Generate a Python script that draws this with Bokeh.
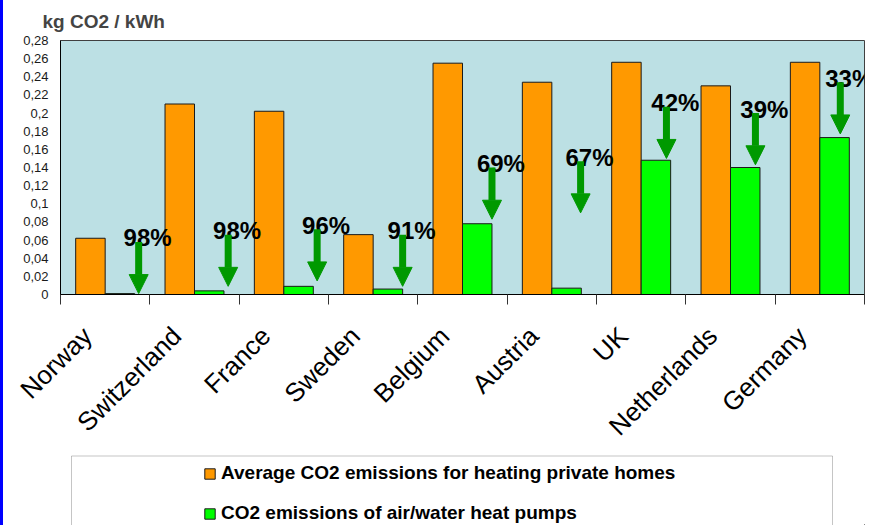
import math
from bokeh.plotting import figure
from bokeh.layouts import column, row
from bokeh.models import (ColumnDataSource, Range1d, FixedTicker, Legend, LegendItem,
                          Arrow, NormalHead, BoxAnnotation, Div)
from bokeh.transform import dodge
from bokeh.core.properties import value
from bokeh.embed import file_html
from bokeh.resources import INLINE

# ---- data ----
countries = ["Norway", "Switzerland", "France", "Sweden", "Belgium",
             "Austria", "UK", "Netherlands", "Germany"]
avg_heating = [0.062, 0.210, 0.202, 0.066, 0.255, 0.234, 0.256, 0.230, 0.256]
heat_pump = [0.001, 0.004, 0.009, 0.006, 0.078, 0.007, 0.148, 0.140, 0.173]
reduction_labels = ["98%", "98%", "96%", "91%", "69%", "67%", "42%", "39%", "33%"]
arrow_top = [0.058, 0.066, 0.072, 0.066, 0.140, 0.147, 0.207, 0.200, 0.234]
arrow_tip = [0.001, 0.009, 0.015, 0.009, 0.083, 0.090, 0.150, 0.143, 0.177]
arrow_shift = [0.375, 0.377, 0.373, 0.330, 0.330, 0.322, 0.283, 0.279, 0.229]
y_ticks = [0, 0.02, 0.04, 0.06, 0.08, 0.1, 0.12, 0.14, 0.16, 0.18, 0.2, 0.22, 0.24, 0.26, 0.28]
y_tick_labels = ["0", "0,02", "0,04", "0,06", "0,08", "0,1", "0,12", "0,14", "0,16",
                 "0,18", "0,2", "0,22", "0,24", "0,26", "0,28"]
series_names = ["Average CO2 emissions for heating private homes",
                "CO2 emissions of air/water heat pumps"]

FONT = "Liberation Sans"
ORANGE = "#FF9900"
GREEN = "#00FF00"
ARROW = "#009900"

EDGE = 3            # blue slide edge on the left
W = 875 - EDGE

n = len(countries)
xc = [i + 0.5 for i in range(n)]
xa = [c + s for c, s in zip(xc, arrow_shift)]
xl = [a + 0.1 for a in xa]
label_pos = [c - 0.2 for c in xc]

src = ColumnDataSource(dict(x=xc, avg=avg_heating, hp=heat_pump, xa=xa, xl=xl,
                            top=arrow_top, tip=arrow_tip, lab=reduction_labels))

p = figure(width=W, height=454, output_backend="svg", toolbar_location=None,
           x_range=Range1d(0, n), y_range=Range1d(0, 0.28),
           min_border_left=60 - EDGE, min_border_right=11, min_border_top=38,
           min_border_bottom=160, background_fill_color="#BCE0E4",
           border_fill_color="white", title="kg CO2 / kWh")
p.grid.visible = False
p.outline_line_color = "#404040"

p.title.align = "left"
p.title.offset = -18
p.title.text_font = FONT
p.title.text_font_size = "19px"
p.title.text_font_style = "bold"
p.title.standoff = 17

r_avg = p.vbar(x=dodge("x", -0.165), top="avg", width=0.33, source=src,
               fill_color=ORANGE, line_color="#1a1a1a", line_width=1)
r_hp = p.vbar(x=dodge("x", 0.165), top="hp", width=0.33, source=src,
              fill_color=GREEN, line_color="#1a1a1a", line_width=1)

p.add_layout(Arrow(end=NormalHead(size=19, fill_color=ARROW, line_color=ARROW, line_width=1),
                   x_start="xa", y_start="top", x_end="xa", y_end="tip", source=src,
                   line_color=ARROW, line_width=7))

p.text(x="xl", y="top", text="lab", y_offset=-4, source=src, text_align="center",
       text_baseline="alphabetic", text_font=value(FONT), text_font_size="24px",
       text_font_style="bold", text_color="black")

# x axis
xaxis = p.xaxis[0]
xaxis.ticker = FixedTicker(ticks=label_pos, minor_ticks=list(range(n + 1)))
xaxis.major_label_overrides = {x: c for x, c in zip(label_pos, countries)}
xaxis.major_label_orientation = math.pi / 4
xaxis.major_tick_out = 0
xaxis.major_tick_in = 0
xaxis.minor_tick_out = 10
xaxis.minor_tick_in = 0
xaxis.minor_tick_line_color = "#333333"
xaxis.axis_line_color = "black"
xaxis.major_label_text_font = FONT
xaxis.major_label_text_font_size = "26px"
xaxis.major_label_text_color = "black"
xaxis.major_label_standoff = 27

# y axis
yaxis = p.yaxis[0]
yaxis.ticker = FixedTicker(ticks=y_ticks, minor_ticks=[])
yaxis.major_label_overrides = dict(zip(y_ticks, y_tick_labels))
yaxis.major_tick_out = 0
yaxis.major_tick_in = 0
yaxis.minor_tick_out = 0
yaxis.minor_tick_in = 0
yaxis.axis_line_color = "black"
yaxis.major_label_text_font = FONT
yaxis.major_label_text_font_size = "13px"
yaxis.major_label_text_color = "#1a1a1a"
yaxis.major_label_standoff = 12

# legend strip below the chart (same side borders as the chart);
# its ranges are in pixels, offset so that the key renderers fall out of view
LW, LH = 804, 71
lg = figure(width=W, height=LH, output_backend="svg", toolbar_location=None,
            x_range=Range1d(-LW, 0), y_range=Range1d(0, LH),
            x_axis_location=None, y_axis_location=None,
            min_border_left=60 - EDGE, min_border_right=11, min_border_top=0,
            min_border_bottom=0, background_fill_color="white",
            border_fill_color="white", outline_line_color=None)
lg.grid.visible = False
k_avg = lg.vbar(x="x", top="avg", width=0.33, source=src,
                fill_color=ORANGE, line_color="#1a1a1a")
k_hp = lg.vbar(x="x", top="hp", width=0.33, source=src,
               fill_color=GREEN, line_color="#1a1a1a")

lg.add_layout(BoxAnnotation(left=-LW + 11, right=-LW + 772, bottom=-10, top=LH - 1.5,
                            fill_color="white", fill_alpha=1,
                            line_color="#404040", line_width=1, level="underlay"))

legend = Legend(items=[LegendItem(label=series_names[0], renderers=[k_avg]),
                       LegendItem(label=series_names[1], renderers=[k_hp])],
                location=(143, 1), padding=0, margin=0, spacing=18,
                glyph_width=13, glyph_height=13, label_height=13, label_standoff=5,
                label_text_font=FONT, label_text_font_size="19px",
                label_text_font_style="bold", label_text_color="black",
                border_line_color=None, background_fill_alpha=0)
lg.add_layout(legend)

edge = Div(text="", width=EDGE, height=454 + LH, margin=0,
           styles={"background-color": "#0000FF"})

layout = row(edge, column(p, lg, spacing=0), spacing=0)
open("out.html", "w").write(file_html(layout, INLINE))
